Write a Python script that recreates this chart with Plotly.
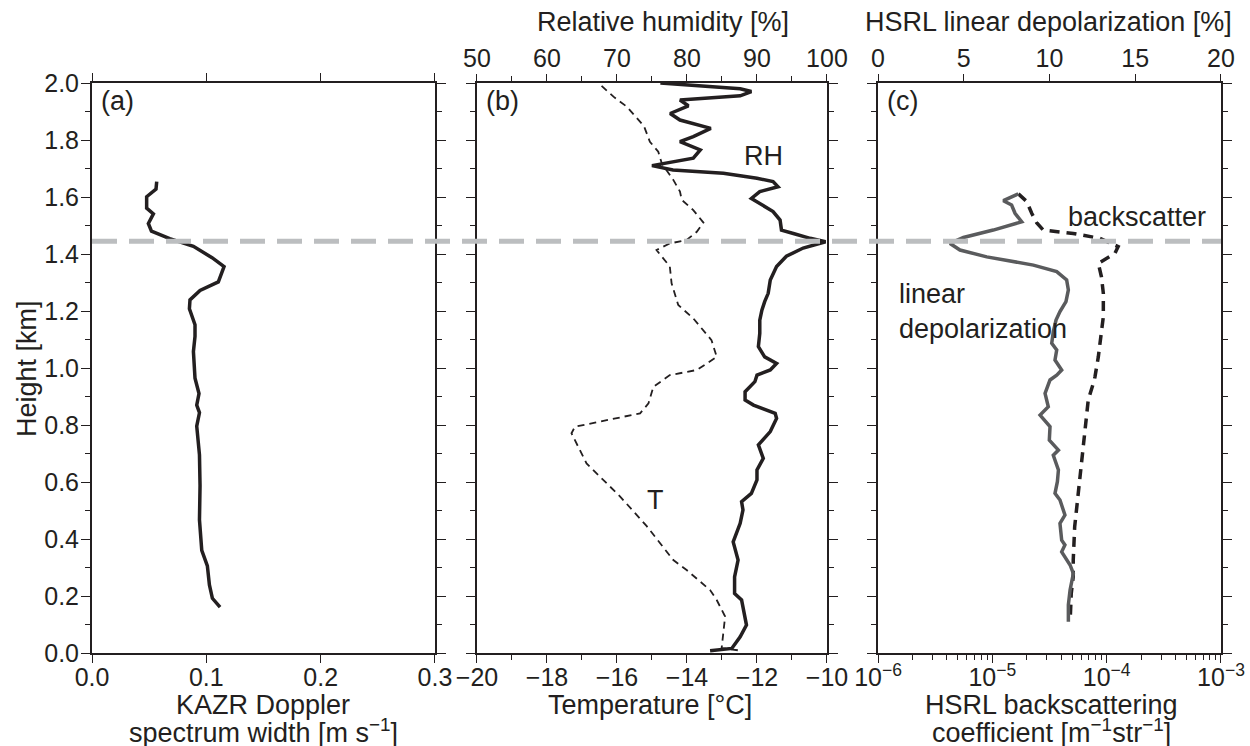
import plotly.graph_objects as go

# ---------------- data ----------------
# (a) KAZR Doppler spectrum width [m s-1] vs height [km]
kazr_width = [0.0566, 0.056, 0.0478, 0.0478, 0.0537, 0.0493, 0.052, 0.068, 0.0887, 0.105,
              0.1155, 0.1105, 0.0945, 0.0857, 0.0852, 0.0901, 0.0901, 0.0887, 0.0901, 0.0936,
              0.0916, 0.094, 0.0916, 0.094, 0.0945, 0.094, 0.096, 0.1009, 0.1027, 0.1053, 0.112]
kazr_height = [1.654, 1.628, 1.601, 1.561, 1.541, 1.507, 1.48, 1.454, 1.427, 1.387,
               1.356, 1.302, 1.272, 1.239, 1.208, 1.152, 1.111, 1.058, 0.964, 0.910,
               0.870, 0.843, 0.796, 0.695, 0.588, 0.467, 0.360, 0.306, 0.239, 0.192, 0.161]

# (b) Relative humidity [%] vs height [km]
rh = [76.2, 87.6, 89.2, 87.6, 79.0, 80.2, 77.6, 79.0, 83.4, 80.9, 79.0, 81.9, 80.9, 75.0,
      78.0, 85.2, 90.0, 92.3, 93.0, 90.4, 89.2, 90.4, 92.3, 93.3, 93.5, 95.2, 97.6, 99.8,
      96.6, 94.2, 92.8, 91.9, 91.6, 91.1, 90.7, 90.4, 90.4, 90.2, 91.1, 92.8, 91.9,
      90.0, 89.7, 88.3, 88.3, 89.5, 92.6, 92.8, 91.9, 90.2, 90.9, 90.0, 90.0, 89.2, 87.8,
      88.0, 87.6, 86.6, 87.3, 86.8, 86.8, 87.8, 88.5, 87.6, 86.4, 83.3]
rh_height = [2.0, 1.98, 1.97, 1.955, 1.94, 1.92, 1.893, 1.87, 1.841, 1.812, 1.794, 1.765, 1.736, 1.710,
             1.695, 1.683, 1.666, 1.654, 1.636, 1.619, 1.595, 1.578, 1.549, 1.519, 1.484, 1.472, 1.455, 1.443,
             1.421, 1.392, 1.356, 1.309, 1.262, 1.233, 1.203, 1.168, 1.121, 1.075, 1.039, 1.016, 0.993,
             0.975, 0.952, 0.917, 0.888, 0.870, 0.841, 0.823, 0.777, 0.730, 0.683, 0.642, 0.607, 0.560, 0.531,
             0.502, 0.455, 0.390, 0.326, 0.267, 0.209, 0.186, 0.098, 0.057, 0.016, 0.008]

# (b) Temperature [degC] vs height [km]
temp = [-16.44, -16.10, -15.72, -15.23, -15.06, -14.82, -14.72, -14.39, -14.20, -14.15, -13.82,
        -13.53, -13.72, -14.01, -14.49, -14.87, -14.49, -14.44, -14.25, -13.82, -13.30, -13.15,
        -13.72, -14.49, -14.96, -15.10, -15.34, -17.20, -17.30, -16.87, -15.91, -15.15, -14.39,
        -14.01, -13.34, -13.15, -12.91, -12.96, -13.01, -12.44]
temp_height = [1.99, 1.952, 1.917, 1.849, 1.794, 1.759, 1.718, 1.660, 1.619, 1.590, 1.554,
               1.51, 1.478, 1.449, 1.437, 1.414, 1.356, 1.297, 1.221, 1.174, 1.098, 1.039,
               0.993, 0.975, 0.934, 0.876, 0.841, 0.794, 0.771, 0.665, 0.549, 0.445, 0.326,
               0.291, 0.221, 0.186, 0.128, 0.069, 0.017, 0.008]

# (c) HSRL linear depolarization [%] vs height [km]
depol = [8.18, 7.31, 7.79, 7.99, 8.38, 6.72, 4.98, 4.20, 4.78, 6.34, 9.06, 10.42, 11.0, 11.1,
         10.96, 10.61, 10.38, 10.22, 10.13, 10.42, 10.32, 10.71, 10.42, 10.03, 9.74, 9.93, 9.45,
         10.03, 9.99, 10.52, 10.22, 10.52, 10.46, 10.32, 10.61, 10.90, 10.61, 10.71, 10.90, 10.71,
         11.20, 11.39, 11.20, 11.10, 11.10]
depol_height = [1.611, 1.587, 1.572, 1.543, 1.513, 1.484, 1.458, 1.437, 1.414, 1.390, 1.361, 1.338, 1.309, 1.274,
                1.233, 1.198, 1.168, 1.127, 1.087, 1.063, 1.028, 0.993, 0.975, 0.958, 0.911, 0.864, 0.835,
                0.794, 0.747, 0.712, 0.694, 0.642, 0.601, 0.560, 0.537, 0.484, 0.455, 0.396, 0.379, 0.355,
                0.309, 0.279, 0.221, 0.169, 0.110]

# (c) HSRL backscattering coefficient [m-1 str-1] vs height [km]
backscatter = [1.69e-5, 2.0e-5, 2.21e-5, 2.44e-5, 2.79e-5, 5.1e-5, 8.7e-5, 1.26e-4, 1.18e-4, 8.45e-5,
               9.0e-5, 9.35e-5, 9.35e-5, 9.0e-5, 8.45e-5, 7.9e-5, 7.8e-5, 6.9e-5, 6.5e-5, 6.0e-5,
               5.6e-5, 5.25e-5, 5.1e-5, 5.1e-5, 4.9e-5, 4.8e-5]
bs_height = [1.611, 1.584, 1.543, 1.510, 1.484, 1.472, 1.455, 1.426, 1.402, 1.367,
             1.320, 1.262, 1.180, 1.121, 1.039, 0.969, 0.958, 0.888, 0.794, 0.677,
             0.560, 0.443, 0.326, 0.268, 0.209, 0.118]

cloud_top_height = 1.445

log_tickvals = [1e-6, 1e-5, 1e-4, 1e-3]
log_ticktext = ["10<sup>−6</sup>", "10<sup>−5</sup>", "10<sup>−4</sup>", "10<sup>−3</sup>"]

# ---------------- styling ----------------
INK = "#231f20"
FONT = "Liberation Sans, Arial, sans-serif"
TICKF = dict(family=FONT, size=25, color=INK)
TEXTF = dict(family=FONT, size=27, color=INK)

fig = go.Figure()

fig.add_trace(go.Scatter(x=kazr_width, y=kazr_height, mode="lines",
                         line=dict(color=INK, width=3.5), xaxis="x", yaxis="y",
                         name="KAZR spectrum width"))
fig.add_trace(go.Scatter(x=temp, y=temp_height, mode="lines",
                         line=dict(color=INK, width=1.8, dash="7px,5px"), xaxis="x2", yaxis="y2",
                         name="T"))
fig.add_trace(go.Scatter(x=rh, y=rh_height, mode="lines",
                         line=dict(color=INK, width=3.5), xaxis="x3", yaxis="y2",
                         name="RH"))
fig.add_trace(go.Scatter(x=backscatter, y=bs_height, mode="lines",
                         line=dict(color=INK, width=3.5, dash="10px,7px"), xaxis="x4", yaxis="y3",
                         name="backscatter"))
fig.add_trace(go.Scatter(x=depol, y=depol_height, mode="lines",
                         line=dict(color="#5a5b5d", width=3.5), xaxis="x5", yaxis="y3",
                         name="linear depolarization"))

dom_a = [0.0, 0.3038]
dom_b = [0.341, 0.651]
dom_c = [0.6962, 1.0]

common_axis = dict(showline=True, linecolor=INK, linewidth=2, ticks="outside",
                   tickcolor=INK, tickwidth=1.3, tickfont=TICKF, showgrid=False,
                   zeroline=False, automargin=False)
minor_style = dict(ticks="outside", ticklen=5, tickcolor=INK, tickwidth=1.3)
bottom_off = -7
top_off = -3

yaxis_common = dict(common_axis, range=[0, 2], dtick=0.2, tick0=0, tickformat=".1f",
                    ticklen=9, mirror="ticks", minor=dict(minor_style, dtick=0.1),
                    ticklabelstandoff=-3)

fig.update_layout(
    width=1250, height=746,
    margin=dict(l=92, r=29, t=83, b=93),
    plot_bgcolor="white", paper_bgcolor="white",
    showlegend=False,
    font=dict(family=FONT, color=INK),
    xaxis=dict(common_axis, domain=dom_a, anchor="y", range=[0, 0.3], dtick=0.1, tick0=0,
               tickformat=".1f", ticklen=8, mirror="ticks", ticklabelstandoff=bottom_off),
    yaxis=dict(yaxis_common, anchor="x"),
    xaxis2=dict(common_axis, domain=dom_b, anchor="y2", range=[-20, -10], dtick=2, tick0=-20,
                ticklen=8, minor=dict(minor_style, dtick=1), ticklabelstandoff=bottom_off),
    xaxis3=dict(common_axis, domain=dom_b, anchor="y2", overlaying="x2", side="top",
                range=[50, 100], dtick=10, tick0=50, ticklen=7, minor=dict(minor_style, dtick=5),
                ticklabelstandoff=top_off),
    yaxis2=dict(yaxis_common, anchor="x2", matches="y", showticklabels=False),
    xaxis4=dict(common_axis, domain=dom_c, anchor="y3", type="log", range=[-6, -3],
                tickmode="array", tickvals=log_tickvals, ticktext=log_ticktext, ticklen=8,
                ticklabelstandoff=bottom_off,
                minor=dict(minor_style,
                           tickvals=[k * 10.0 ** e for e in (-6, -5, -4) for k in range(2, 10)])),
    xaxis5=dict(common_axis, domain=dom_c, anchor="y3", overlaying="x4", side="top",
                range=[0, 20], dtick=5, tick0=0, ticklen=7, ticklabelstandoff=top_off),
    yaxis3=dict(yaxis_common, anchor="x4", matches="y", showticklabels=False),
)

# horizontal dashed line marking cloud top across all panels
fig.add_shape(type="line", xref="paper", x0=0, x1=1, yref="y", y0=cloud_top_height, y1=cloud_top_height,
              line=dict(color="#bcbec0", width=5, dash="25px,12px"), layer="above")

# axis titles (one line per annotation for tight line spacing)
titles = [
    dict(text="KAZR Doppler", x=0.1515, y=-0.0912),
    dict(text="spectrum width [m s<sup>−1</sup>]", x=0.1515, y=-0.1369),
    dict(text="Temperature [°C]", x=0.4943, y=-0.0912),
    dict(text="HSRL backscattering", x=0.8503, y=-0.0912),
    dict(text="coefficient [m<sup>−1</sup>str<sup>−1</sup>]", x=0.8503, y=-0.1369),
    dict(text="Relative humidity [%]", x=0.5058, y=1.107),
    dict(text="HSRL linear depolarization [%]", x=0.8468, y=1.107),
    dict(text="Height [km]", x=-0.0576, y=0.5, textangle=-90),
]
for t in titles:
    fig.add_annotation(xref="paper", yref="paper", xanchor="center", yanchor="middle",
                       showarrow=False, font=TEXTF, **t)

annotations = [
    dict(text="(a)", xref="x domain", yref="y domain", x=0.02, y=0.998, xanchor="left", yanchor="top"),
    dict(text="(b)", xref="x2 domain", yref="y2 domain", x=0.02, y=0.998, xanchor="left", yanchor="top"),
    dict(text="(c)", xref="x4 domain", yref="y3 domain", x=0.02, y=0.998, xanchor="left", yanchor="top"),
    dict(text="RH", xref="x3", yref="y2", x=91.0, y=1.743, xanchor="center", yanchor="middle"),
    dict(text="T", xref="x2", yref="y2", x=-14.9, y=0.537, xanchor="center", yanchor="middle"),
    dict(text="backscatter", xref="x5", yref="y3", x=15.1, y=1.53, xanchor="center", yanchor="middle"),
    dict(text="linear<br>depolarization", xref="x5", yref="y3", x=1.1, y=1.20, xanchor="left",
         yanchor="middle", align="left"),
]
for a in annotations:
    fig.add_annotation(showarrow=False, font=TEXTF, **a)

fig.write_html("out.html", config={"displayModeBar": False},
               post_script="document.body.style.margin='0px';")
